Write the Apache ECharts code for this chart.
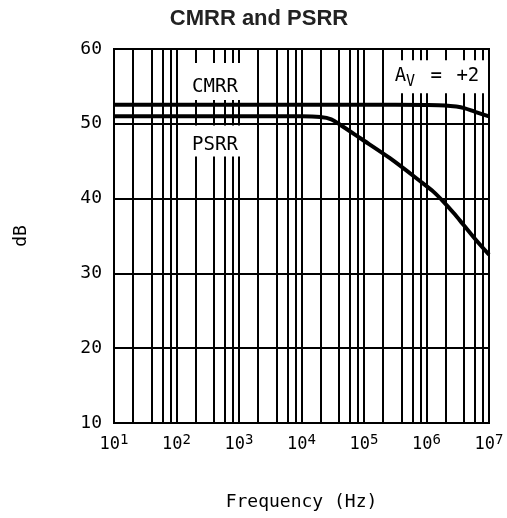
<!DOCTYPE html>
<html><head><meta charset="utf-8">
<script src="https://cdn.jsdelivr.net/npm/echarts@6/dist/echarts.min.js"></script>
<style>html,body{margin:0;padding:0;background:#fff}#c{width:507px;height:518px}</style>
</head><body><div id="c"></div>
<script>
var titleText = 'CMRR and PSRR';
var xName = 'Frequency (Hz)';
var yName = 'dB';
var cmrr = [[10,52.55],[1e3,52.55],[1e5,52.55],[1e6,52.5],[2e6,52.45],[3e6,52.3],[4e6,52.1],[6e6,51.6],[1e7,51.0]];
var psrr = [[10,51.0],[1e3,51.0],[1e4,51.0],[2e4,50.9],[3e4,50.6],[4.1e4,49.9],[8.6e4,48.1],[2.6e5,45.4],[8.9e5,42.0],[1.3e6,40.9],[1.86e6,39.6],[2.7e6,38.1],[3.9e6,36.5],[6e6,34.6],[1e7,32.5]];
var minorMult = [2, 4, 6, 8];
var minorX = [];
for (var e = 1; e < 7; e++) { minorMult.forEach(function (m) { minorX.push(m * Math.pow(10, e)); }); }
var labels = [
  {box: [413, 55.65], text: 'CMRR', size: [62, 37], dy: 6},
  {box: [413, 47.7], text: 'PSRR', size: [62, 31], dy: 4},
  {box: [1.47e6, 56.3], text: 'A{sub|V} {e|=} {p|+2}', size: [102, 33], dy: -1}
];
var font = 'DejaVu Sans Mono';
var chart = echarts.init(document.getElementById('c'));
chart.setOption({
  animation: false,
  backgroundColor: '#fff',
  title: {text: titleText, left: 254, top: 3, textAlign: 'center',
    textStyle: {fontFamily: 'Liberation Sans', fontWeight: 'bold', fontSize: 22, color: '#222'}},
  grid: {left: 114, right: 18, top: 49, bottom: 95, show: true, borderColor: '#000', borderWidth: 2, backgroundColor: 'transparent'},
  xAxis: {type: 'log', logBase: 10, min: 10, max: 1e7,
    name: xName, nameLocation: 'middle', nameGap: 70,
    nameTextStyle: {fontFamily: font, fontSize: 18, color: '#000'},
    axisLine: {show: false}, axisTick: {show: false},
    splitLine: {show: true, lineStyle: {color: '#000', width: 2}},
    axisLabel: {showMinLabel: true, showMaxLabel: true, margin: 10,
      fontFamily: font, fontSize: 17, color: '#000',
      formatter: function (v) { return '10{sup|' + Math.round(Math.log10(v)) + '}'; },
      rich: {sup: {fontFamily: font, fontSize: 14, verticalAlign: 'top', padding: [0, 0, 9, 0], color: '#000'}}}
  },
  yAxis: {type: 'value', min: 10, max: 60, interval: 10,
    name: yName, nameLocation: 'middle', nameGap: 84, nameRotate: 90,
    nameTextStyle: {fontFamily: font, fontSize: 18, color: '#000'},
    axisLine: {show: false}, axisTick: {show: false},
    splitLine: {show: true, lineStyle: {color: '#000', width: 2}},
    axisLabel: {margin: 12, fontFamily: font, fontSize: 18, color: '#000'}
  },
  series: [
    {type: 'line', data: [], z: 1, silent: true,
      markLine: {silent: true, symbol: ['none', 'none'], label: {show: false},
        lineStyle: {color: '#000', width: 2, type: 'solid'},
        data: minorX.map(function (v) { return {xAxis: v}; })}},
    {type: 'scatter', data: [], z: 3, silent: true,
      markPoint: {silent: true, symbol: 'rect', itemStyle: {color: '#fff'},
        data: labels.map(function (l) {
          return {coord: l.box, symbolSize: l.size,
            label: {show: true, position: 'inside', offset: [0, l.dy], formatter: l.text,
              fontFamily: font, fontSize: 19, color: '#000',
              rich: {sub: {fontFamily: font, fontSize: 15, padding: [12, 0, 0, 0], color: '#000'},
                     e: {fontFamily: font, fontSize: 19, padding: [0, 0, 0, 4], color: '#000'},
                     p: {fontFamily: font, fontSize: 19, padding: [0, 0, 0, 3], color: '#000'}}}};
        })}},
    {type: 'line', name: 'CMRR', data: cmrr, smooth: 0.3, symbol: 'none', z: 5,
      lineStyle: {color: '#000', width: 4}},
    {type: 'line', name: 'PSRR', data: psrr, smooth: 0.3, symbol: 'none', z: 5,
      lineStyle: {color: '#000', width: 4}}
  ]
});
</script></body></html>
